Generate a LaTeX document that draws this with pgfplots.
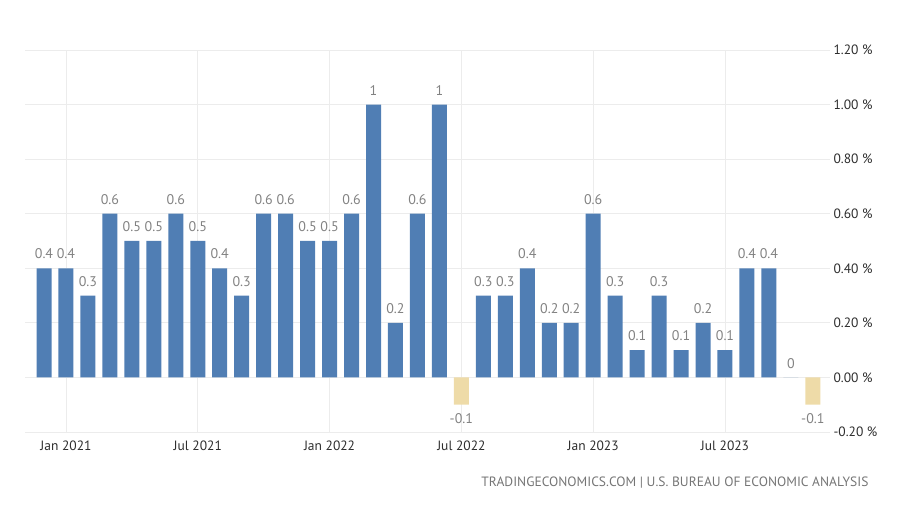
\documentclass[border=0pt]{standalone}
\usepackage{pgfplots}
\pgfplotsset{compat=1.18}
\usepackage{fontspec}
\setmainfont{PT Sans}
\definecolor{barblue}{RGB}{80,126,180}
\definecolor{barbeige}{RGB}{238,219,168}
\definecolor{gridgray}{RGB}{236,236,236}
\definecolor{valgray}{RGB}{130,130,130}
\definecolor{tickdark}{RGB}{45,45,45}
\begin{document}
\begin{tikzpicture}
\path (0,0) rectangle (900pt,510pt);
\begin{axis}[
  at={(25pt,78pt)}, anchor=south west,
  scale only axis, width=805pt, height=382pt,
  xmin=-0.865, xmax=35.78, ymin=-0.2, ymax=1.2,
  axis line style={draw=none},
  tick style={draw=none},
  xmajorgrids, ymajorgrids,
  grid style={gridgray, line width=0.8pt},
  xtick={1,7,13,19,25,31},
  xticklabels={Jan 2021,Jul 2021,Jan 2022,Jul 2022,Jan 2023,Jul 2023},
  ytick={-0.2,0,0.2,0.4,0.6,0.8,1.0,1.2},
  yticklabel pos=right,
  /pgf/number format/assume math mode=true,
  yticklabel={\pgfmathprintnumber[fixed,fixed zerofill,precision=2]{\tick}~\%},
  yticklabel style={anchor=west, xshift=0pt},
  xticklabel style={yshift=-1pt},
  ticklabel style={font=\fontsize{13.5}{15}\selectfont, text=tickdark},
  ybar, bar width=15pt, bar shift=0pt,
  nodes near coords,
  nodes near coords style={font=\fontsize{14}{15}\selectfont, text=valgray, inner ysep=9pt, /pgf/number format/assume math mode=true},
  clip=false,
]
\addplot[fill=barblue, draw=none] coordinates {
 (0,0.4) (1,0.4) (2,0.3) (3,0.6) (4,0.5) (5,0.5) (6,0.6) (7,0.5) (8,0.4) (9,0.3)
 (10,0.6) (11,0.6) (12,0.5) (13,0.5) (14,0.6) (15,1) (16,0.2) (17,0.6) (18,1)
 (20,0.3) (21,0.3) (22,0.4) (23,0.2) (24,0.2) (25,0.6) (26,0.3) (27,0.1) (28,0.3)
 (29,0.1) (30,0.2) (31,0.1) (32,0.4) (33,0.4) (34,0)
};
\addplot[fill=barbeige, draw=none] coordinates {
 (19,-0.1) (35,-0.1)
};
\end{axis}
\node[anchor=east, font=\fontsize{13.5}{15}\selectfont, text=valgray!90!black] at (872pt,27pt)
 {TRADINGECONOMICS.COM | U.S. BUREAU OF ECONOMIC ANALYSIS};
\end{tikzpicture}
\end{document}
